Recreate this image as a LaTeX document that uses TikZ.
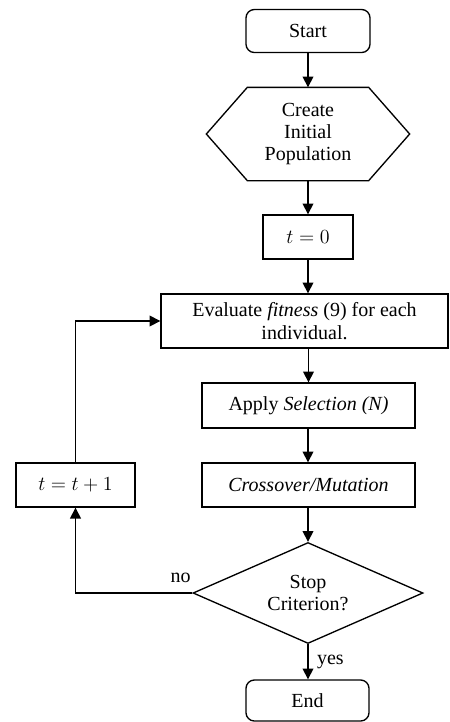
\documentclass[tikz,border=0pt]{standalone}
\usepackage{amsmath}
\usepackage{fontspec}
\setmainfont{Liberation Serif}
\usepackage{tikz}
\usetikzlibrary{shapes,arrows.meta}

\begin{document}
\begin{tikzpicture}[x=0.6pt,y=-0.6pt,line width=0.8pt,
                   font=\fontsize{12}{13.4}\selectfont,
                   every node/.style={inner sep=0pt,align=center},
                   box/.style={draw,rectangle,minimum height=26.4pt},
                   term/.style={box,rounded corners=5pt},
                   decision/.style={draw,diamond,aspect=2.3,minimum width=138pt,minimum height=60.6pt},
                   flow/.style={-{Triangle[length=6.5pt,width=6.5pt]}}]
\useasboundingbox (0,0) rectangle (450,722);
\node[term,minimum width=74.4pt,minimum height=25.8pt] (start) at (308,31) {Start};
\node[minimum width=72pt,minimum height=55.2pt] (pop) at (308,134) {Create\\Initial\\Population};
\draw (pop.north west) -- (pop.north east) -- ([xshift=24.6pt]pop.east) -- (pop.south east)
      -- (pop.south west) -- ([xshift=-24.6pt]pop.west) -- cycle;
\node[box,minimum width=54pt] (tzero) at (308,237) {$t=0$};
\node[box,minimum width=172.2pt,minimum height=32.4pt] (eval) at (304.5,321) {Evaluate \textit{fitness} (9) for each\\individual.};
\node[box,minimum width=127.8pt,minimum height=27pt] (sel) at (308.5,405.5) {Apply \textit{Selection (N)}};
\node[box,minimum width=127.8pt] (cross) at (308.5,485) {\textit{Crossover/Mutation}};
\node[box,minimum width=71.4pt] (inc) at (75.5,485) {$t=t+1$};
\node[decision] (stop) at (308,593) {Stop\\Criterion?};
\node[term,minimum width=73.8pt,minimum height=24.6pt] (end) at (307.5,700.5) {End};
% main line
\draw[flow] (start) -- (pop);
\draw[flow] (pop) -- (tzero);
\draw[flow] (tzero.south) -- (tzero.south |- eval.north);
\draw[flow] (eval.south -| sel) -- (sel.north);
\draw[flow] (sel.south -| stop) -- (cross.north -| stop);
\draw[flow] (cross.south -| stop) -- (stop.north);
\draw[flow] (stop.south) -- node[right=5pt] {yes} (end.north -| stop);
% loop back
\draw[flow] (stop.west) -- node[above=6pt,pos=0.1] {no} (stop.west -| inc) -- (inc.south);
\draw[flow] (inc.north) |- (eval.west);
\end{tikzpicture}
\end{document}
